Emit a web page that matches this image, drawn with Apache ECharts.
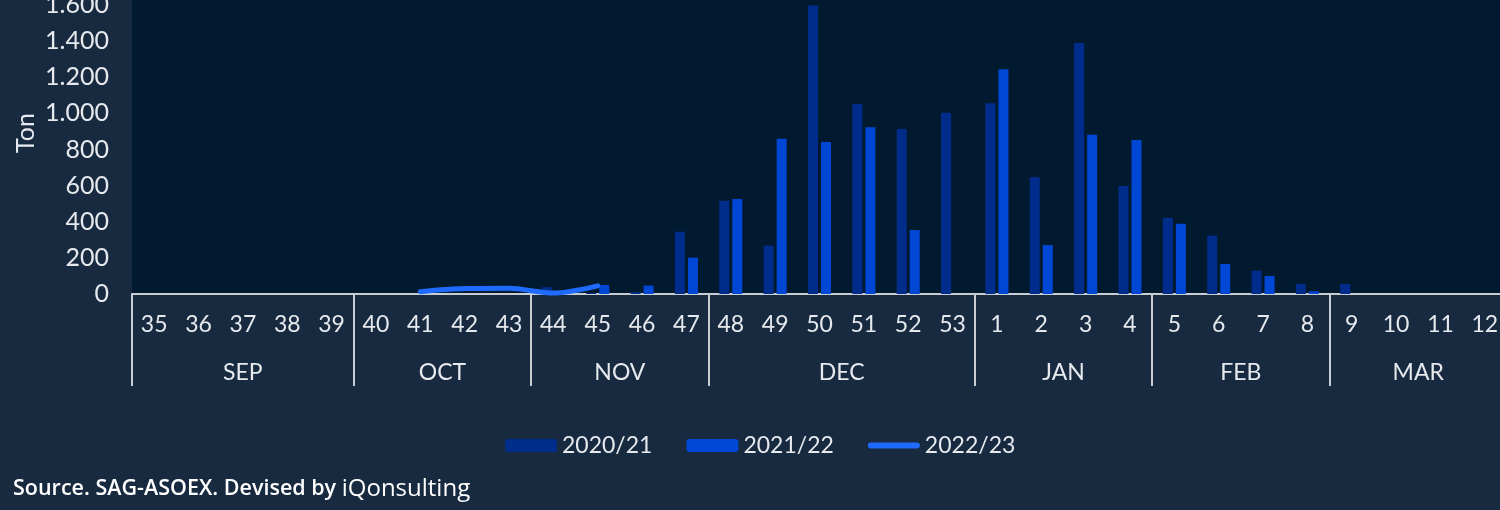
<!DOCTYPE html>
<html>
<head>
<meta charset="utf-8">
<script src="https://cdn.jsdelivr.net/npm/echarts@6/dist/echarts.min.js"></script>
<style>
html,body{margin:0;padding:0;background:#172a3f;}
#chart{width:1500px;height:510px;}
</style>
</head>
<body>
<div id="chart"></div>
<script>
const weeks = ['35','36','37','38','39','40','41','42','43','44','45','46','47','48','49','50','51','52','53','1','2','3','4','5','6','7','8','9','10','11','12'];
const monthNames = ['SEP','OCT','NOV','DEC','JAN','FEB','MAR'];
const monthStartIdx = [0,5,9,13,19,23,27,31];
const yTicks = [0,200,400,600,800,1000,1200,1400,1600];

const s2020 = [0,0,0,0,0, 0,0,0,0, 38,6,10,345, 517,268,1598,1052,913,1004, 1056,646,1390,598, 421,323,129,55, 55,0,0,0];
const s2021 = [0,0,0,0,0, 0,0,0,0, 0,50,47,201, 526,860,841,923,354,0, 1244,271,882,853, 389,166,100,15, 0,0,0,0];
const s2022 = [null,null,null,null,null, null,13,30,32, 5,45,null,null, null,null,null,null,null,null, null,null,null,null, null,null,null,null, null,null,null,null];

const FONT = 'Lato';
const TXT = '#e6e9ee';

// month axis: half-week positions (63 points, boundaryGap false)
const monthAxis = [];
for (let k = 0; k <= 62; k++) monthAxis.push('');
for (let m = 0; m < monthNames.length; m++) {
  monthAxis[monthStartIdx[m] + monthStartIdx[m + 1]] = monthNames[m];
}

const chart = echarts.init(document.getElementById('chart'));
chart.setOption({
  backgroundColor: '#172a3f',
  animation: false,
  textStyle: { fontFamily: FONT },
  grid: {
    left: 132, right: -7, top: 0, bottom: 216,
    outerBoundsMode: 'none', containLabel: false,
    show: true, backgroundColor: '#011a30', borderWidth: 0
  },
  title: {
    left: 13, top: 477, padding: 0,
    text: '{a|Source. SAG-ASOEX. Devised by }{b|iQonsulting}',
    textStyle: {
      rich: {
        a: { fontFamily: 'Open Sans', fontWeight: 600, fontSize: 21.5, color: '#ffffff' },
        b: { fontFamily: 'Open Sans', fontWeight: 400, fontSize: 24, color: '#ffffff' }
      }
    }
  },
  legend: {
    left: 500, top: 429,
    itemWidth: 52, itemHeight: 13, itemGap: 34,
    textStyle: { color: TXT, fontSize: 23, fontFamily: FONT },
    data: [
      { name: '2020/21' },
      { name: '2021/22' },
      { name: '2022/23', icon: 'path://M3,0h46a3,3 0 0 1 0,6h-46a3,3 0 0 1 0,-6z' }
    ]
  },
  xAxis: [
    {
      type: 'category', data: weeks, position: 'bottom',
      axisLine: { lineStyle: { color: '#c9ccd1', width: 2 } },
      axisTick: {
        show: true, length: 92, lineStyle: { color: '#c9ccd1', width: 2 },
        interval: function (idx) { return monthStartIdx.indexOf(idx) >= 0; }
      },
      axisLabel: { interval: 0, color: TXT, fontSize: 23, margin: 19, fontFamily: FONT }
    },
    {
      type: 'category', data: monthAxis, position: 'bottom', boundaryGap: false,
      axisLine: { show: false }, axisTick: { show: false },
      axisLabel: { interval: 0, color: TXT, fontSize: 23, margin: 67, fontFamily: FONT }
    }
  ],
  yAxis: {
    type: 'value', min: 0, max: 1628, interval: 200,
    name: 'Ton', nameLocation: 'middle', nameGap: 94, nameRotate: 90, nameMoveOverlap: false,
    nameTextStyle: { color: TXT, fontSize: 25, fontFamily: FONT, padding: [0, 0, 0, 28] },
    splitLine: { show: false },
    axisLine: { show: false }, axisTick: { show: false },
    axisLabel: {
      color: TXT, fontSize: 25, margin: 23, fontFamily: FONT,
      formatter: function (v) {
        if (yTicks.indexOf(v) < 0) return '';
        return v >= 1000 ? Math.floor(v / 1000) + '.' + String(v % 1000).padStart(3, '0') : String(v);
      }
    }
  },
  series: [
    { name: '2020/21', type: 'bar', data: s2020, barWidth: 10, barGap: '30%', itemStyle: { color: '#002d8c' } },
    { name: '2021/22', type: 'bar', data: s2021, barWidth: 10, barGap: '30%', itemStyle: { color: '#0047d6' } },
    { name: '2022/23', type: 'line', data: s2022, symbol: 'none', smooth: 0.3,
      lineStyle: { color: '#1f6bff', width: 5, cap: 'round' }, itemStyle: { color: '#1f6bff' } }
  ]
});
</script>
</body>
</html>
